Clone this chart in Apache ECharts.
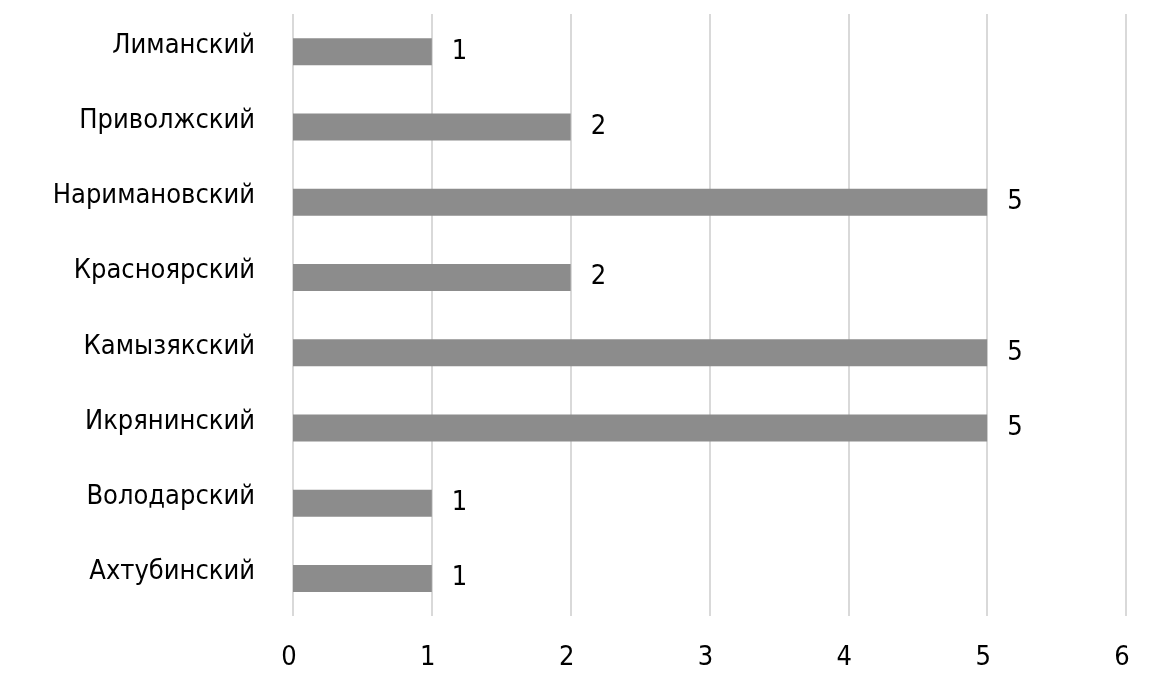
<!DOCTYPE html>
<html>
<head>
<meta charset="utf-8">
<script src="https://cdn.jsdelivr.net/npm/echarts@6/dist/echarts.min.js"></script>
<style>
html,body{margin:0;padding:0;background:#fff;}
#chart{width:1155px;height:685px;}
</style>
</head>
<body>
<div id="chart"></div>
<script>
const categories = ["Лиманский","Приволжский","Наримановский","Красноярский","Камызякский","Икрянинский","Володарский","Ахтубинский"];
const values = [1,2,5,2,5,5,1,1];
const xTicks = [0,1,2,3,4,5,6];

const FONT = '"Liberation Sans Narrow","DejaVu Sans Condensed",Roboto,sans-serif';
const chart = echarts.init(document.getElementById('chart'), null, {renderer:'canvas'});
chart.setOption({
  animation:false,
  backgroundColor:'#ffffff',
  grid:{left:293,right:29,top:14,bottom:69,containLabel:false},
  xAxis:{
    type:'value', min:xTicks[0], max:xTicks[xTicks.length-1], interval:1,
    axisLine:{show:false}, axisTick:{show:false},
    splitLine:{show:true,lineStyle:{color:'#d9d9d9',width:2}},
    axisLabel:{color:'#000',fontSize:27,fontFamily:FONT,margin:28,
      formatter:'{a|{value}}',
      rich:{a:{color:'#000',fontSize:27,fontFamily:FONT,padding:[0,8,0,0]}}}
  },
  yAxis:{
    type:'category', data:categories, inverse:true,
    axisLine:{show:false}, axisTick:{show:false},
    axisLabel:{color:'#000',fontSize:27,fontFamily:FONT,margin:38,
      formatter:'{a|{value}}',
      rich:{a:{color:'#000',fontSize:27,fontFamily:FONT,padding:[0,0,12,0]}}}
  },
  series:[{
    type:'bar', data:values, barWidth:27,
    itemStyle:{color:'#8c8c8c'},
    label:{show:true,position:'right',distance:20,color:'#000',fontSize:27,fontFamily:FONT}
  }]
});
</script>
</body>
</html>
